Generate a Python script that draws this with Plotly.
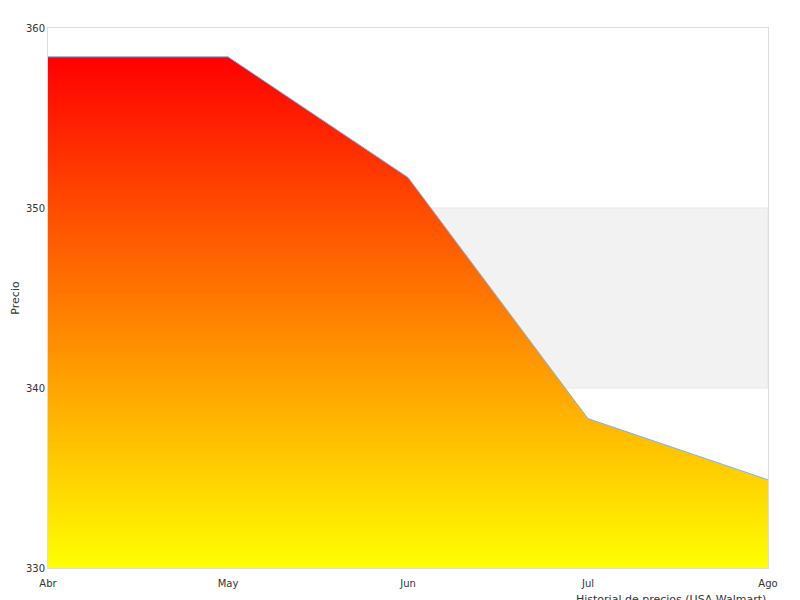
import plotly.graph_objects as go

months = ['Abr', 'May', 'Jun', 'Jul', 'Ago']
prices = [358.4, 358.4, 351.7, 338.3, 334.9]
baseline = [330, 330, 330, 330, 330]

fig = go.Figure()

# baseline for the filled area
fig.add_trace(go.Scatter(x=list(range(len(months))), y=baseline, mode='lines',
                         line=dict(width=0), showlegend=False, hoverinfo='skip'))

fig.add_trace(go.Scatter(
    x=list(range(len(months))), y=prices, mode='lines',
    line=dict(color='#7cb5ec', width=1),
    fill='tonexty',
    fillgradient=dict(type='vertical', start=330, stop=max(prices),
                      colorscale=[[0, '#ffff00'], [1, '#ff0000']]),
    showlegend=False
))

# shaded band between 340 and 350
fig.add_shape(type='rect', xref='paper', x0=0, x1=1, yref='y', y0=340, y1=350,
              fillcolor='#f2f2f2', line=dict(color='#e6e6e6', width=1), layer='below')

fig.update_layout(
    width=800, height=600,
    margin=dict(l=40, r=40, t=20, b=40, autoexpand=False),
    plot_bgcolor='white', paper_bgcolor='white',
    font=dict(family='DejaVu Sans', size=11, color='#333333'),
    xaxis=dict(range=[0, 4], tickvals=list(range(len(months))), ticktext=months,
               showgrid=False, zeroline=False, showline=True, linecolor='#dddddd',
               mirror=True, ticks='outside', ticklen=6, tickcolor='rgba(0,0,0,0)',
               tickfont=dict(size=10), automargin=False),
    yaxis=dict(range=[330, 360], tickvals=[330, 340, 350, 360], showgrid=False,
               zeroline=False, showline=True, linecolor='#dddddd', mirror=True,
               title=dict(text='Precio', font=dict(size=11), standoff=4),
               tickfont=dict(size=10), automargin=False),
    annotations=[dict(text='Historial de precios (USA Walmart)', xref='paper', yref='paper',
                      x=1, y=0, xanchor='right', yanchor='top', yshift=-23,
                      showarrow=False, font=dict(size=11))]
)

fig.write_html("out.html")
